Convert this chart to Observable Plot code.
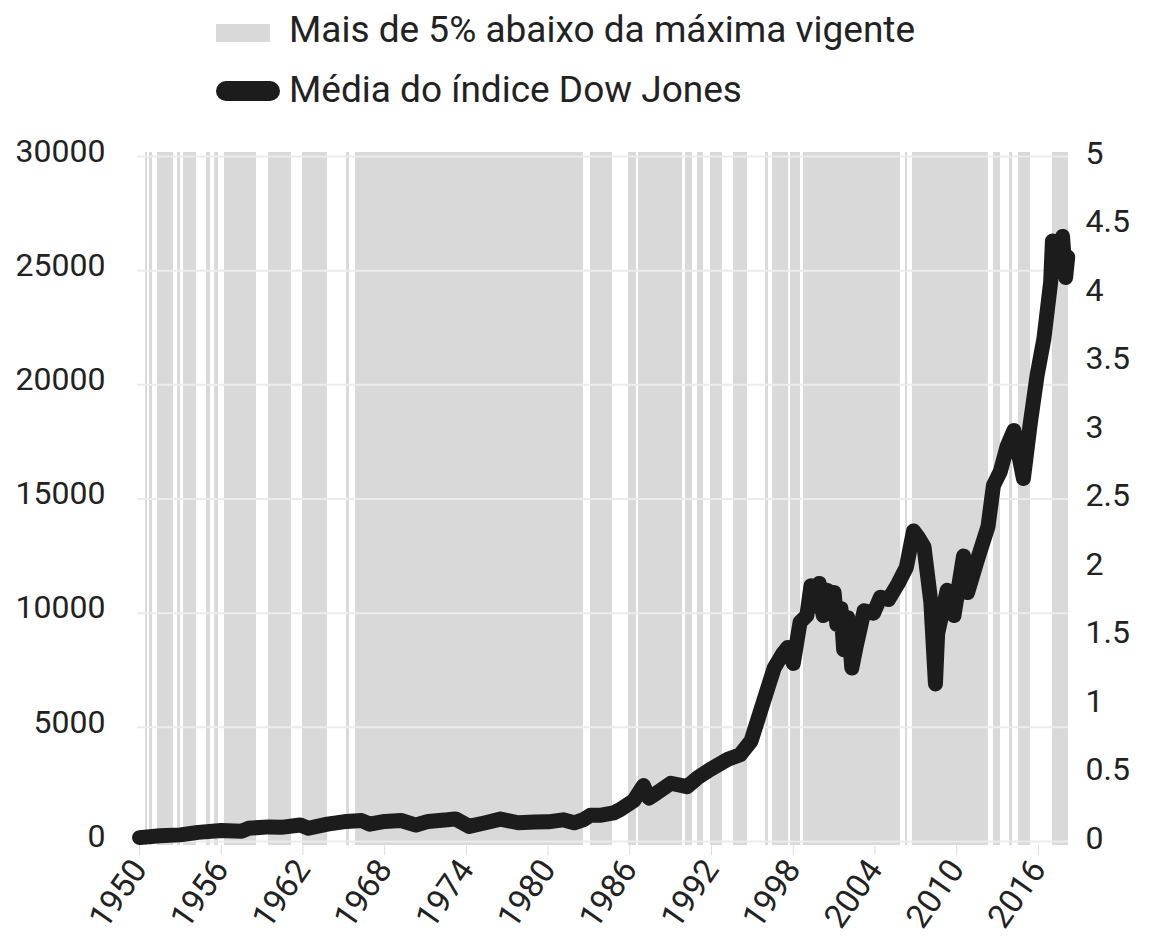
<!DOCTYPE html>
<html>
<head>
<meta charset="utf-8">
<script src="https://cdn.jsdelivr.net/npm/d3@7"></script>
<script src="https://cdn.jsdelivr.net/npm/@observablehq/plot@0.6"></script>
<style>
  html, body { margin: 0; padding: 0; background: #fff; overflow: hidden; }
  body { width: 1149px; height: 942px; font-family: Roboto, "Noto Sans", sans-serif; color: #222; }
  #legend { position: relative; height: 120px; }
  .sw { position: absolute; }
  .lt { position: absolute; font-size: 37px; line-height: 37px; white-space: nowrap; color: #222; }
  #chart svg { display: block; }
</style>
</head>
<body>
<div id="legend">
  <div class="sw" style="left:216px; top:24px; width:54px; height:18px; background:#d9d9d9;"></div>
  <div class="lt" style="left:289px; top:11px;">Mais de 5% abaixo da máxima vigente</div>
  <div class="sw" style="left:216px; top:81px; width:64px; height:20px; background:#1c1c1c; border-radius:10px;"></div>
  <div class="lt" style="left:289px; top:71px;">Média do índice Dow Jones</div>
</div>
<div id="chart"></div>
<script>
// Periods more than 5% below the running maximum (start / end, in years)
const bandStart = [1950.44, 1950.73, 1951.32, 1952.79, 1953.23, 1954.92, 1955.51, 1956.24, 1959.47, 1961.97,
  1965.20, 1965.86, 1983.11, 1985.90, 1986.64, 1990.09, 1990.97, 1991.92, 1993.61, 1995.96,
  1996.48, 1997.80, 1998.75, 2006.24, 2006.75, 2012.70, 2013.88, 2014.54, 2017.03];
const bandEnd = [1950.59, 1950.95, 1952.50, 1953.01, 1954.19, 1955.21, 1955.80, 1958.59, 1961.16, 1963.80,
  1965.42, 1982.60, 1984.73, 1986.49, 1989.87, 1990.60, 1991.41, 1992.80, 1994.64, 1996.18,
  1997.66, 1998.53, 2005.87, 2006.39, 2012.33, 2013.22, 2014.10, 2015.42, 2018.21];

// Dow Jones average
const years = [1950.0, 1951.5, 1953.0, 1954.3, 1956.0, 1957.5, 1958.0, 1959.5, 1960.4, 1961.8,
  1962.4, 1963.8, 1965.2, 1966.3, 1966.9, 1968.0, 1969.2, 1970.3, 1971.2, 1972.6,
  1973.2, 1974.2, 1975.4, 1976.5, 1977.8, 1979.0, 1980.0, 1981.1, 1981.9, 1982.6,
  1983.1, 1983.9, 1984.8, 1985.3, 1986.3, 1987.0, 1987.4, 1987.8, 1989.0, 1990.2,
  1991.0, 1991.9, 1993.2, 1994.1, 1994.9, 1995.8, 1996.6, 1997.2, 1997.6, 1998.0,
  1998.5, 1999.0, 1999.3, 1999.6, 1999.9, 2000.2, 2000.5, 2000.8, 2001.0, 2001.2,
  2001.5, 2001.7, 2002.0, 2002.3, 2002.6, 2003.2, 2003.9, 2004.4, 2005.0, 2005.7,
  2006.3, 2006.83, 2007.2, 2007.6, 2008.1, 2008.44, 2008.6, 2009.3, 2009.8, 2010.5,
  2010.8, 2011.5, 2012.3, 2012.7, 2013.2, 2013.7, 2014.2, 2014.7, 2014.9, 2015.4,
  2015.9, 2016.4, 2016.9, 2017.03, 2017.4, 2017.77, 2018.0, 2018.15];
const dow = [170, 250, 290, 400, 480, 450, 580, 640, 620, 720,
  580, 760, 880, 920, 760, 880, 920, 720, 880, 950,
  990, 660, 820, 980, 820, 850, 860, 950, 820, 960,
  1150, 1150, 1250, 1400, 1800, 2450, 1900, 2050, 2550, 2400,
  2800, 3150, 3600, 3800, 4400, 6100, 7600, 8200, 8500, 7800,
  9600, 9900, 11200, 10300, 11300, 9900, 11000, 10300, 10900, 9500,
  10200, 8400, 9800, 7600, 8500, 10100, 10000, 10700, 10600, 11300,
  12000, 13600, 13300, 12900, 10500, 6900, 9100, 11000, 9900, 12500,
  10900, 12300, 13800, 15600, 16200, 17300, 18000, 16500, 15900, 18300,
  20400, 22000, 24500, 26300, 25300, 26500, 24700, 25600];

const xTicks = [1950, 1956, 1962, 1968, 1974, 1980, 1986, 1992, 1998, 2004, 2010, 2016];
const yTicks = [0, 5000, 10000, 15000, 20000, 25000, 30000];
const rightTicks = [0, 0.5, 1, 1.5, 2, 2.5, 3, 3.5, 4, 4.5, 5];

const bands = bandStart.map((s, i) => ({start: s, end: bandEnd[i]}));
const series = years.map((y, i) => ({year: y, value: dow[i]}));
const rightFactor = 30000 / 5;

const chart = Plot.plot({
  width: 1149,
  height: 822,
  marginLeft: 137,
  marginRight: 81,
  marginTop: 32,
  marginBottom: 97,
  insetTop: 4,
  insetBottom: 4,
  style: {fontFamily: "Roboto, 'Noto Sans', sans-serif", fontSize: "32px", color: "#222", background: "#fff"},
  x: {domain: [1949.85, 2018.21]},
  y: {domain: [0, 30000]},
  marks: [
    Plot.rect(bands, {x1: "start", x2: "end", fill: "#d9d9d9"}),
    Plot.ruleY(yTicks, {stroke: "#ececec", strokeWidth: 2}),
    Plot.axisY({ticks: yTicks, anchor: "left", tickSize: 0, tickPadding: 32, dy: -5,
      tickFormat: d => String(d), fontSize: 32, fill: "#222", label: null}),
    Plot.axisY({ticks: rightTicks.map(v => v * rightFactor), anchor: "right", tickSize: 0, tickPadding: 17, dy: -3,
      tickFormat: d => String(d / rightFactor), fontSize: 32, fill: "#222", label: null}),
    Plot.axisX({ticks: xTicks, tickSize: 10, stroke: "#dddddd", tickRotate: -55, tickPadding: 8,
      tickFormat: d => String(d), fontSize: 33, fill: "#222", label: null}),
    Plot.line(series, {x: "year", y: "value", stroke: "#1c1c1c", strokeWidth: 15,
      strokeLinejoin: "round", strokeLinecap: "round"})
  ]
});
document.getElementById("chart").appendChild(chart);
</script>
</body>
</html>
